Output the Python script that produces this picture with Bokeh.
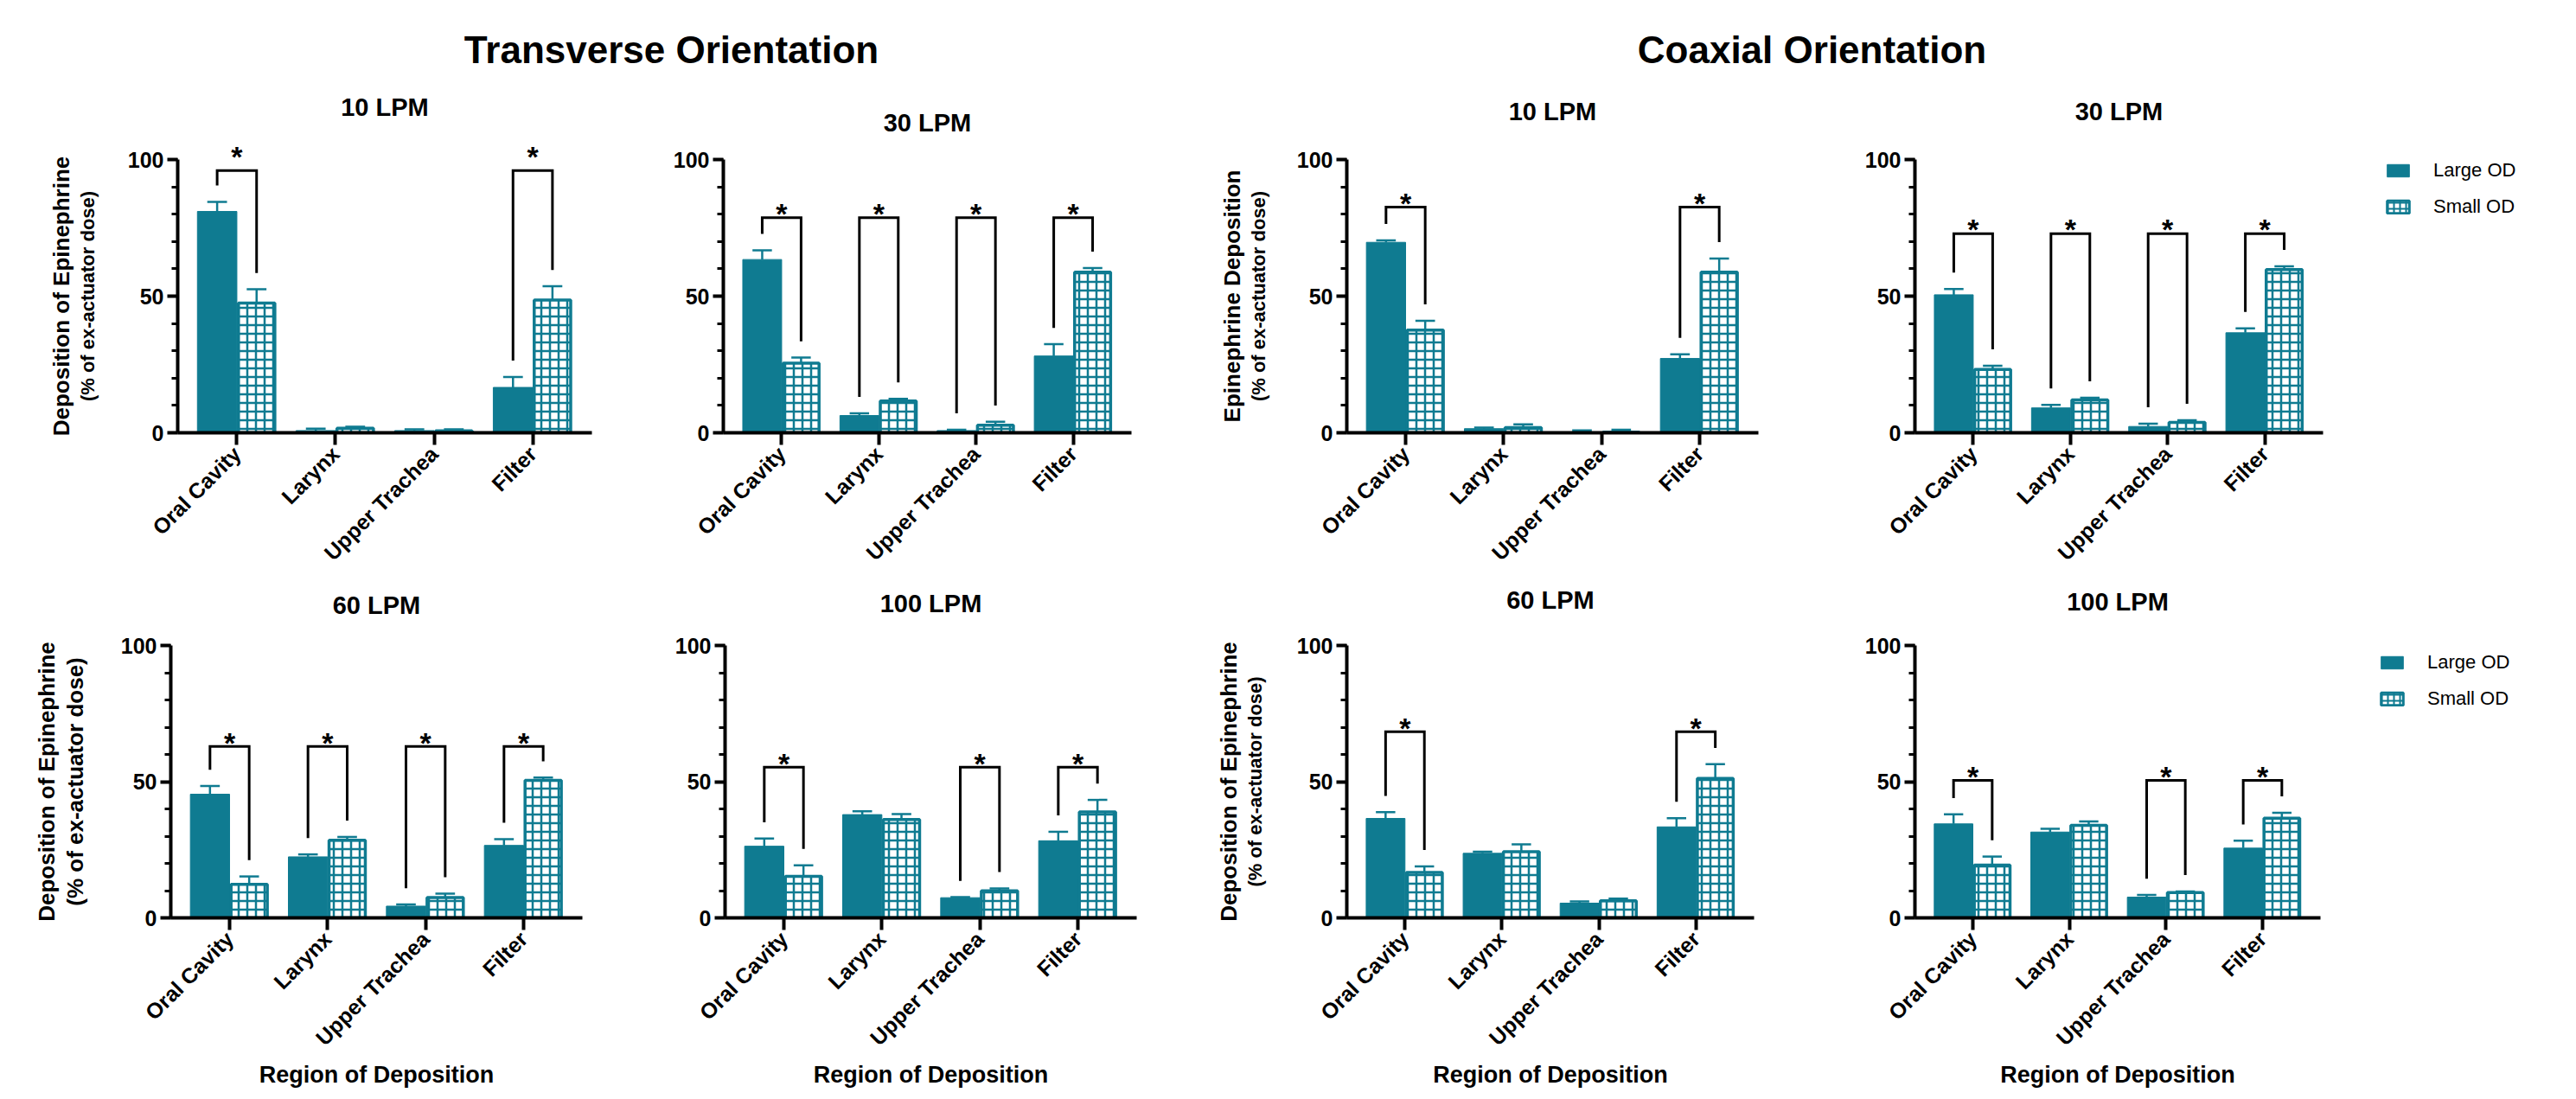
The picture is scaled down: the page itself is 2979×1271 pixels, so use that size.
from math import pi

from bokeh.plotting import figure
from bokeh.layouts import column, row
from bokeh.models import (Range1d, FixedTicker, LinearAxis, Label, Legend,
                          LegendItem)
from bokeh.embed import file_html
from bokeh.resources import INLINE
from bokeh.core.properties import value

# ---------------------------------------------------------------- data
regions = ["Oral Cavity", "Larynx", "Upper Trachea", "Filter"]
series = ["Large OD", "Small OD"]
orientations = ["Transverse Orientation", "Coaxial Orientation"]

# Transverse orientation
t10_large = [81.0, 0.8, 0.8, 16.6]
t10_large_err = [3.5, 0.7, 0.5, 3.8]
t10_small = [47.5, 1.7, 0.7, 48.6]
t10_small_err = [5.0, 0.5, 0.6, 5.0]
t10_sig = [True, False, False, True]
t10_bracket = 96.0

t30_large = [63.4, 6.3, 0.8, 28.1]
t30_large_err = [3.4, 0.8, 0.3, 4.3]
t30_small = [25.5, 11.6, 2.8, 58.8]
t30_small_err = [2.0, 0.8, 1.2, 1.5]
t30_sig = [True, True, True, True]
t30_bracket = 78.7

t60_large = [45.4, 22.4, 4.3, 26.6]
t60_large_err = [3.0, 0.9, 0.6, 2.3]
t60_small = [12.3, 28.5, 7.5, 50.5]
t60_small_err = [2.9, 1.2, 1.4, 1.0]
t60_sig = [True, True, True, True]
t60_bracket = 62.9

t100_large = [26.3, 37.9, 7.4, 28.3]
t100_large_err = [2.8, 1.2, 0.2, 3.3]
t100_small = [15.2, 36.1, 9.9, 38.9]
t100_small_err = [4.1, 2.0, 0.9, 4.4]
t100_sig = [True, False, True, True]
t100_bracket = 55.3

# Coaxial orientation
c10_large = [69.7, 1.5, 0.3, 27.2]
c10_large_err = [0.7, 0.4, 0.6, 1.5]
c10_small = [37.6, 1.9, 0.2, 58.8]
c10_small_err = [3.4, 1.2, 0.9, 5.0]
c10_sig = [True, False, False, True]
c10_bracket = 82.6

c30_large = [50.5, 9.1, 2.3, 36.6]
c30_large_err = [2.1, 1.1, 1.0, 1.6]
c30_small = [23.2, 12.0, 3.8, 59.7]
c30_small_err = [1.3, 0.8, 0.8, 1.2]
c30_sig = [True, True, True, True]
c30_bracket = 72.9

c60_large = [36.5, 23.7, 5.4, 33.4]
c60_large_err = [2.3, 0.6, 0.6, 3.2]
c60_small = [16.7, 24.3, 6.3, 51.2]
c60_small_err = [2.2, 2.7, 0.8, 5.2]
c60_sig = [True, False, False, True]
c60_bracket = 68.3

c100_large = [34.5, 31.5, 7.6, 25.6]
c100_large_err = [3.5, 1.2, 0.8, 2.7]
c100_small = [19.4, 34.0, 9.3, 36.6]
c100_small_err = [3.1, 1.4, 0.4, 2.0]
c100_sig = [True, False, True, True]
c100_bracket = 50.5

y_ticks = [0, 50, 100]
y_minor = [0, 10, 20, 30, 40, 50, 60, 70, 80, 90, 100]

# ---------------------------------------------------------------- style
TEAL = "#0F7B91"
FONT = "Liberation Sans"
GAP = 6.0          # gap between error-bar top and bracket leg (data units)
STAR_UP = 1.5      # asterisk baseline above bracket (data units)

HDR_H = 90
ROW1_H, ROW1_T, ROW1_B = 576, 94, 166
ROW2_H, ROW2_T, ROW2_B = 599, 80, 204


def style_axis_common(ax):
    ax.axis_line_width = 4
    ax.axis_line_color = "black"
    ax.major_tick_line_width = 4
    ax.major_tick_line_color = "black"
    ax.major_tick_in = 0
    ax.major_label_text_font = FONT
    ax.major_label_text_font_style = "bold"
    ax.major_label_text_color = "black"
    ax.axis_label_text_font = FONT
    ax.axis_label_text_font_style = "bold"
    ax.axis_label_text_color = "black"


def bare_axis(ax):
    style_axis_common(ax)
    ax.axis_line_color = None
    ax.major_tick_line_color = None
    ax.minor_tick_line_color = None
    ax.major_tick_out = 0
    ax.minor_tick_out = 0
    ax.major_label_standoff = 0


def panel(title, large, large_err, small, small_err, sig, bracket,
          w, h, left, right, top, bottom, title_standoff,
          ylab=None, xlab=False):
    p = figure(width=w, height=h, x_range=Range1d(-0.6, 3.6),
               y_range=Range1d(0, 100), output_backend="svg",
               toolbar_location=None, min_border_left=left,
               min_border_right=right, min_border_top=top,
               min_border_bottom=bottom)
    p.xgrid.visible = False
    p.ygrid.visible = False
    p.outline_line_color = None
    p.background_fill_color = "white"
    p.border_fill_color = "white"

    idx = list(range(len(regions)))
    xl = [i - 0.2 for i in idx]
    xs = [i + 0.2 for i in idx]

    # ---- main axes (grab them before any extra axis is added)
    ya = p.left[0]
    xa = p.below[0]

    style_axis_common(ya)
    ya.ticker = FixedTicker(ticks=y_ticks, minor_ticks=y_minor)
    ya.minor_tick_line_width = 3
    ya.minor_tick_line_color = "black"
    ya.major_tick_out = 12
    ya.minor_tick_out = 7
    ya.minor_tick_in = 0
    ya.major_label_text_font_size = "25px"
    ya.major_label_standoff = 4

    style_axis_common(xa)
    xa.ticker = FixedTicker(ticks=idx)
    xa.major_label_overrides = {i: r for i, r in enumerate(regions)}
    xa.major_label_orientation = pi / 4
    xa.major_tick_out = 14
    xa.minor_tick_line_color = None
    xa.major_label_text_font_size = "25px"
    xa.major_label_standoff = 6

    # ---- bars
    p.vbar(x=xl, top=large, width=0.4, fill_color=TEAL, line_color=TEAL,
           line_width=1)
    p.vbar(x=xs, top=small, width=0.37, fill_color="white", line_color=TEAL,
           line_width=3.5, hatch_pattern="cross", hatch_color=TEAL,
           hatch_scale=10, hatch_weight=2.5)

    # ---- error bars (upper only)
    for xpos, v, e in ((xl, large, large_err), (xs, small, small_err)):
        tops = [a + b for a, b in zip(v, e)]
        p.segment(x0=xpos, y0=v, x1=xpos, y1=tops, line_color=TEAL,
                  line_width=2.5)
        p.segment(x0=[x - 0.1 for x in xpos], y0=tops,
                  x1=[x + 0.1 for x in xpos], y1=tops, line_color=TEAL,
                  line_width=2.5)

    # ---- significance brackets; stars that would poke out of the frame
    #      are written by the title axis just above the frame instead
    stars_above = bracket > 90
    star_ticks = []
    bx, by = [], []
    for i in idx:
        if sig[i]:
            lo_l = large[i] + large_err[i] + GAP
            lo_s = small[i] + small_err[i] + GAP
            bx.append([i - 0.2, i - 0.2, i + 0.2, i + 0.2])
            by.append([lo_l, bracket, bracket, lo_s])
            if stars_above:
                star_ticks.append(i)
            else:
                p.add_layout(Label(x=i, y=bracket + STAR_UP, text="*",
                                   text_font=FONT, text_font_size="34px",
                                   text_font_style="bold",
                                   text_align="center",
                                   text_baseline="alphabetic",
                                   text_color="black"))
    if bx:
        p.multi_line(xs=bx, ys=by, line_color="black", line_width=3,
                     line_join="miter", line_cap="butt")

    # ---- panel title: label of a bare axis above the frame
    ta = LinearAxis(axis_label=title, ticker=FixedTicker(ticks=star_ticks))
    bare_axis(ta)
    ta.major_label_overrides = {i: "*" for i in star_ticks}
    ta.major_label_text_font_size = "34px"
    ta.major_label_standoff = -15 if star_ticks else 0
    ta.axis_label_text_font_size = "29px"
    ta.axis_label_standoff = title_standoff
    p.add_layout(ta, "above")

    # ---- two-line y label: subtitle on the tick axis, main label outside
    if ylab is not None:
        main, sub, main_size, sub_size, sub_standoff = ylab
        ya.axis_label = sub
        ya.axis_label_text_font_size = f"{sub_size}px"
        ya.axis_label_standoff = sub_standoff
        ax2 = LinearAxis(axis_label=main, ticker=FixedTicker(ticks=[]))
        bare_axis(ax2)
        ax2.major_label_text_font_size = "1px"
        ax2.axis_label_text_font_size = f"{main_size}px"
        ax2.axis_label_standoff = 0
        p.add_layout(ax2, "left")

    if xlab:
        xa.axis_label = "Region of Deposition"
        xa.axis_label_text_font_size = "27px"
        xa.axis_label_standoff = 1
    return p


def legend_fig(h, top, bottom, left, margin):
    lf = figure(width=249, height=h, x_range=Range1d(0, 1),
                y_range=Range1d(0, 1), x_axis_type=None, y_axis_type=None,
                output_backend="svg", toolbar_location=None,
                min_border_left=left, min_border_top=top,
                min_border_right=0, min_border_bottom=bottom)
    lf.outline_line_color = None
    lf.border_fill_color = "white"
    lf.background_fill_color = "white"
    nan = float("nan")
    # legend keys only (no visible bars in this strip)
    r1 = lf.vbar(x=[nan], top=[nan], width=0.4, fill_color=TEAL,
                 line_color=TEAL)
    r2 = lf.vbar(x=[nan], top=[nan], width=0.4, fill_color="white",
                 line_color=TEAL, line_width=3, hatch_pattern="cross",
                 hatch_color=TEAL, hatch_scale=7, hatch_weight=2)
    leg = Legend(items=[LegendItem(label=series[0], renderers=[r1]),
                        LegendItem(label=series[1], renderers=[r2])],
                 location="top_left", margin=margin, padding=0,
                 glyph_width=32, glyph_height=18, label_standoff=25,
                 spacing=16, label_text_font=FONT,
                 label_text_font_size="22px", label_text_color="black",
                 border_line_color=None, background_fill_alpha=0)
    lf.add_layout(leg)
    return lf


# ---------------------------------------------------------------- header
hdr = figure(width=2971, height=HDR_H, x_range=Range1d(0, 2971),
             y_range=Range1d(HDR_H, 0), x_axis_type=None, y_axis_type=None,
             output_backend="svg", toolbar_location=None, min_border=0)
hdr.outline_line_color = None
hdr.text(x=[776, 2095], y=[56.5, 56.5], text=orientations,
         text_font=value(FONT), text_font_size="44px",
         text_font_style="bold", text_align="center",
         text_baseline="middle", text_color="black")

YL_T = "Deposition of Epinephrine"
YL_C = "Epinephrine Deposition"
SUB = "(% of ex-actuator dose)"

R1 = (ROW1_H, ROW1_T, ROW1_B)
R2 = (ROW2_H, ROW2_T, ROW2_B)

p_t10 = panel("10 LPM", t10_large, t10_large_err, t10_small, t10_small_err,
              t10_sig, t10_bracket, 762, R1[0], 205, 78, R1[1], R1[2], 19,
              ylab=(YL_T, SUB, 26, 22, 31))
p_t30 = panel("30 LPM", t30_large, t30_large_err, t30_small, t30_small_err,
              t30_sig, t30_bracket, 600, R1[0], 74, 54, R1[1], R1[2], 27)
p_c10 = panel("10 LPM", c10_large, c10_large_err, c10_small, c10_small_err,
              c10_sig, c10_bracket, 730, R1[0], 195, 59, R1[1], R1[2], 40,
              ylab=(YL_C, SUB, 26, 22, 29))
p_c30 = panel("30 LPM", c30_large, c30_large_err, c30_small, c30_small_err,
              c30_sig, c30_bracket, 630, R1[0], 122, 36, R1[1], R1[2], 40)
leg1 = legend_fig(R1[0], R1[1], R1[2], 35, 0)

p_t60 = panel("60 LPM", t60_large, t60_large_err, t60_small, t60_small_err,
              t60_sig, t60_bracket, 762, R2[0], 197, 89, R2[1], R2[2], 31,
              ylab=(YL_T, SUB, 26, 26, 35), xlab=True)
p_t100 = panel("100 LPM", t100_large, t100_large_err, t100_small,
               t100_small_err, t100_sig, t100_bracket, 600, R2[0], 76, 48,
               R2[1], R2[2], 33, xlab=True)
p_c60 = panel("60 LPM", c60_large, c60_large_err, c60_small, c60_small_err,
              c60_sig, c60_bracket, 730, R2[0], 195, 64, R2[1], R2[2], 37,
              ylab=("Deposition of Epinephrine", SUB, 26, 22, 33),
              xlab=True)
p_c100 = panel("100 LPM", c100_large, c100_large_err, c100_small,
               c100_small_err, c100_sig, c100_bracket, 630, R2[0], 122, 39,
               R2[1], R2[2], 35, xlab=True)
leg2 = legend_fig(R2[0], R2[1], R2[2], 21, 7)

layout = column(hdr,
                row(p_t10, p_t30, p_c10, p_c30, leg1),
                row(p_t60, p_t100, p_c60, p_c100, leg2))

open("out.html", "w").write(file_html(layout, INLINE))
